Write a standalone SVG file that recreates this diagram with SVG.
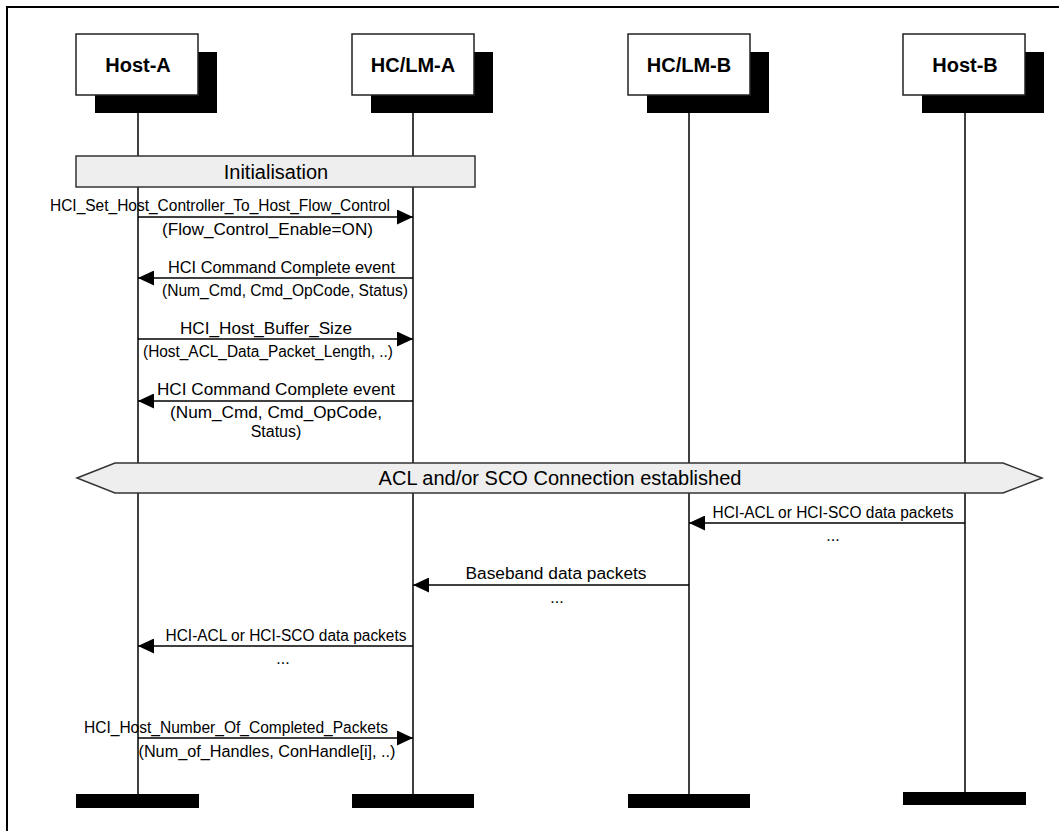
<svg xmlns="http://www.w3.org/2000/svg" width="1059" height="831" viewBox="0 0 1059 831">
<style>
.frame{fill:none;stroke:#000;stroke-width:2}
.box{fill:#fff;stroke:#222;stroke-width:1.5}
.shadow{fill:#000}
.life{stroke:#000;stroke-width:1.5}
.bar{fill:#000}
.band{fill:#eeeeee;stroke:#333;stroke-width:1.5}
.msg{stroke:#000;stroke-width:1.5;fill:none}
.title{font-family:"Liberation Sans",Arial,sans-serif;font-weight:bold;font-size:20px;fill:#000;text-anchor:middle}
.lbl{font-family:"Liberation Sans",Arial,sans-serif;font-size:16px;fill:#000;text-anchor:middle}
.big{font-family:"Liberation Sans",Arial,sans-serif;font-size:20px;fill:#000;text-anchor:middle}
</style>
<defs>
<marker id="ah" markerWidth="16" markerHeight="15" refX="16" refY="7.5" orient="auto" markerUnits="userSpaceOnUse">
<path d="M0,0 L16,7.5 L0,15 Z" fill="#000"/>
</marker>
</defs>
<rect width="1059" height="831" fill="#fff"/>
<rect class="frame" x="7" y="7" width="1070" height="840"/>

<g id="lifelines">
<line class="life" x1="138" y1="113" x2="138" y2="795"/>
<line class="life" x1="413" y1="113" x2="413" y2="795"/>
<line class="life" x1="689" y1="113" x2="689" y2="795"/>
<line class="life" x1="965" y1="113" x2="965" y2="793"/>
</g>

<g id="host-a">
<rect class="shadow" x="95" y="52" width="122" height="61"/>
<rect class="box" x="76" y="34" width="122" height="61"/>
<text class="title" x="138" y="72">Host-A</text>
<rect class="bar" x="76" y="794" width="123" height="14"/>
</g>
<g id="hclm-a">
<rect class="shadow" x="371" y="52" width="122" height="61"/>
<rect class="box" x="352" y="34" width="122" height="61"/>
<text class="title" x="413" y="72">HC/LM-A</text>
<rect class="bar" x="352" y="794" width="122" height="14"/>
</g>
<g id="hclm-b">
<rect class="shadow" x="647" y="52" width="122" height="61"/>
<rect class="box" x="628" y="34" width="122" height="61"/>
<text class="title" x="689" y="72">HC/LM-B</text>
<rect class="bar" x="628" y="794" width="122" height="14"/>
</g>
<g id="host-b">
<rect class="shadow" x="922" y="52" width="122" height="61"/>
<rect class="box" x="903" y="34" width="122" height="61"/>
<text class="title" x="965" y="72">Host-B</text>
<rect class="bar" x="903" y="792" width="123" height="13"/>
</g>

<g id="initialisation">
<rect class="band" x="76" y="156" width="399" height="31"/>
<text class="big" x="276" y="179">Initialisation</text>
</g>

<g id="connection">
<polygon class="band" points="77,478 115,463 1003,463 1042,478 1003,493 115,493"/>
<text class="big" x="560" y="485">ACL and/or SCO Connection established</text>
</g>

<g id="connectors">
<line class="msg" x1="138" y1="217" x2="413" y2="217" marker-end="url(#ah)"/>
<line class="msg" x1="413" y1="278" x2="138" y2="278" marker-end="url(#ah)"/>
<line class="msg" x1="138" y1="339" x2="413" y2="339" marker-end="url(#ah)"/>
<line class="msg" x1="413" y1="401" x2="138" y2="401" marker-end="url(#ah)"/>
<line class="msg" x1="965" y1="523" x2="689" y2="523" marker-end="url(#ah)"/>
<line class="msg" x1="689" y1="585" x2="413" y2="585" marker-end="url(#ah)"/>
<line class="msg" x1="413" y1="646" x2="138" y2="646" marker-end="url(#ah)"/>
<line class="msg" x1="138" y1="738" x2="413" y2="738" marker-end="url(#ah)"/>
</g>

<g id="labels">
<text class="lbl" x="220" y="211" textLength="340" lengthAdjust="spacingAndGlyphs">HCI_Set_Host_Controller_To_Host_Flow_Control</text>
<text class="lbl" x="267.5" y="235" textLength="211" lengthAdjust="spacingAndGlyphs">(Flow_Control_Enable=ON)</text>
<text class="lbl" x="281.5" y="273" textLength="227" lengthAdjust="spacingAndGlyphs">HCI Command Complete event</text>
<text class="lbl" x="285" y="296" textLength="246" lengthAdjust="spacingAndGlyphs">(Num_Cmd, Cmd_OpCode, Status)</text>
<text class="lbl" x="266" y="334" textLength="172" lengthAdjust="spacingAndGlyphs">HCI_Host_Buffer_Size</text>
<text class="lbl" x="268" y="357" textLength="250" lengthAdjust="spacingAndGlyphs">(Host_ACL_Data_Packet_Length, ..)</text>
<text class="lbl" x="276" y="395" textLength="238" lengthAdjust="spacingAndGlyphs">HCI Command Complete event</text>
<text class="lbl" x="276" y="418" textLength="212" lengthAdjust="spacingAndGlyphs">(Num_Cmd, Cmd_OpCode,</text>
<text class="lbl" x="276" y="437">Status)</text>
<text class="lbl" x="833" y="518" textLength="241" lengthAdjust="spacingAndGlyphs">HCI-ACL or HCI-SCO data packets</text>
<text class="lbl" x="833" y="541">...</text>
<text class="lbl" x="556" y="579" textLength="181" lengthAdjust="spacingAndGlyphs">Baseband data packets</text>
<text class="lbl" x="557" y="603">...</text>
<text class="lbl" x="286" y="641" textLength="241" lengthAdjust="spacingAndGlyphs">HCI-ACL or HCI-SCO data packets</text>
<text class="lbl" x="283" y="664">...</text>
<text class="lbl" x="236" y="733" textLength="304" lengthAdjust="spacingAndGlyphs">HCI_Host_Number_Of_Completed_Packets</text>
<text class="lbl" x="267" y="757" textLength="257" lengthAdjust="spacingAndGlyphs">(Num_of_Handles, ConHandle[i], ..)</text>
</g>
</svg>
